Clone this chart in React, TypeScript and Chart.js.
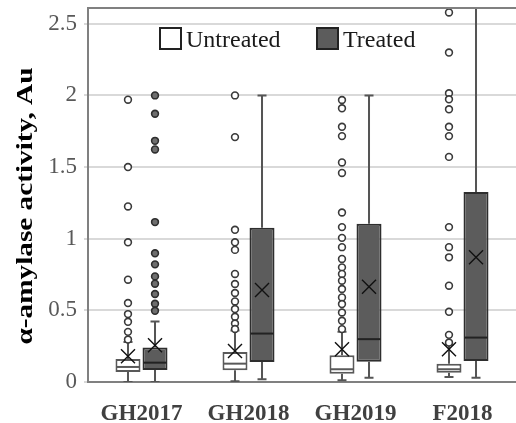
import { useEffect, useRef } from 'react';
import { Chart, registerables } from 'chart.js';

Chart.register(...registerables);

const categories = ['GH2017', 'GH2018', 'GH2019', 'F2018'];
const seriesNames = ['Untreated', 'Treated'];
const yTicks = [0, 0.5, 1, 1.5, 2, 2.5];
const yTitle = 'α-amylase activity, Au';

const untreatedMin = [0.0, 0.005, 0.012, 0.035];
const untreatedQ1 = [0.07, 0.082, 0.058, 0.065];
const untreatedMedian = [0.105, 0.128, 0.089, 0.089];
const untreatedQ3 = [0.161, 0.21, 0.187, 0.128];
const untreatedMax = [0.28, 0.36, 0.35, 0.26];
const untreatedMean = [0.18, 0.217, 0.229, 0.229];
const untreatedOutliers = [
  [1.97, 1.5, 1.225, 0.975, 0.714, 0.551, 0.474, 0.42, 0.35, 0.296],
  [2.0, 1.709, 1.062, 0.975, 0.922, 0.754, 0.684, 0.621, 0.562, 0.509, 0.455, 0.408, 0.37],
  [1.968, 1.91, 1.781, 1.716, 1.532, 1.459, 1.183, 1.081, 1.006, 0.941, 0.859, 0.8, 0.754, 0.707, 0.649, 0.59, 0.544, 0.485, 0.427, 0.369],
  [2.579, 2.299, 2.015, 1.973, 1.903, 1.781, 1.716, 1.571, 1.081, 0.941, 0.87, 0.672, 0.49, 0.329, 0.275],
];

const treatedMin = [0.0, 0.019, 0.03, 0.03];
const treatedQ1 = [0.084, 0.14, 0.142, 0.147];
const treatedMedian = [0.135, 0.338, 0.299, 0.31];
const treatedQ3 = [0.24, 1.076, 1.104, 1.326];
const treatedMax = [0.422, 2.0, 2.0, 3.0];
const treatedMean = [0.257, 0.642, 0.665, 0.87];
const treatedOutliers = [
  [2.0, 1.872, 1.683, 1.623, 1.116, 0.898, 0.821, 0.737, 0.686, 0.614, 0.546, 0.497],
  [],
  [],
  [],
];

const SERIF = "'Liberation Serif', 'Times New Roman', serif";

const stats = [
  {
    min: untreatedMin, q1: untreatedQ1, median: untreatedMedian, q3: untreatedQ3, max: untreatedMax,
    mean: untreatedMean, outliers: untreatedOutliers,
    fill: '#ffffff', border: '#595959', medianColor: '#595959', outlierFill: '#ffffff', outlierStroke: '#3a3a3a',
  },
  {
    min: treatedMin, q1: treatedQ1, median: treatedMedian, q3: treatedQ3, max: treatedMax,
    mean: treatedMean, outliers: treatedOutliers,
    fill: '#5c5c5c', border: '#2e2e2e', medianColor: '#222222', outlierFill: '#6e6e6e', outlierStroke: '#2e2e2e',
  },
];

const boxPlugin = {
  id: 'boxExtras',
  beforeDatasetsDraw(chart: any) {
    const { ctx, chartArea, scales } = chart;
    const y = scales.y;
    ctx.save();
    ctx.beginPath();
    ctx.rect(chartArea.left, chartArea.top, chartArea.right - chartArea.left, chartArea.bottom - chartArea.top);
    ctx.clip();
    ctx.strokeStyle = '#555555';
    ctx.lineWidth = 2;
    stats.forEach((s, di) => {
      const meta = chart.getDatasetMeta(di);
      meta.data.forEach((bar: any, j: number) => {
        const x = bar.x;
        const pts = [
          [s.q3[j], s.max[j]],
          [s.q1[j], s.min[j]],
        ];
        pts.forEach(([a, b]) => {
          const ya = y.getPixelForValue(a);
          const yb = y.getPixelForValue(b);
          ctx.beginPath();
          ctx.moveTo(x, ya);
          ctx.lineTo(x, yb);
          ctx.moveTo(x - 4.5, yb);
          ctx.lineTo(x + 4.5, yb);
          ctx.stroke();
        });
      });
    });
    ctx.restore();
  },
  afterDatasetsDraw(chart: any) {
    const { ctx, chartArea, scales } = chart;
    const y = scales.y;
    ctx.save();
    ctx.beginPath();
    ctx.rect(chartArea.left, chartArea.top, chartArea.right - chartArea.left, chartArea.bottom - chartArea.top);
    ctx.clip();
    stats.forEach((s, di) => {
      const meta = chart.getDatasetMeta(di);
      meta.data.forEach((bar: any, j: number) => {
        const x = bar.x;
        const hw = bar.width / 2 - 1;
        const ym = y.getPixelForValue(s.median[j]);
        ctx.strokeStyle = s.medianColor;
        ctx.lineWidth = 2;
        ctx.beginPath();
        ctx.moveTo(x - hw, ym);
        ctx.lineTo(x + hw, ym);
        ctx.stroke();
        ctx.lineWidth = 1.6;
        s.outliers[j].forEach((v: number) => {
          const yo = y.getPixelForValue(v);
          ctx.beginPath();
          ctx.arc(x, yo, 3.4, 0, Math.PI * 2);
          ctx.fillStyle = s.outlierFill;
          ctx.fill();
          ctx.strokeStyle = s.outlierStroke;
          ctx.stroke();
        });
        const yx = y.getPixelForValue(s.mean[j]);
        const r = 7;
        ctx.strokeStyle = '#111111';
        ctx.lineWidth = 1.4;
        ctx.beginPath();
        ctx.moveTo(x - r, yx - r);
        ctx.lineTo(x + r, yx + r);
        ctx.moveTo(x - r, yx + r);
        ctx.lineTo(x + r, yx - r);
        ctx.stroke();
      });
    });
    ctx.restore();
  },
  afterDraw(chart: any) {
    const { ctx, chartArea } = chart;
    ctx.save();
    ctx.strokeStyle = '#808080';
    ctx.lineWidth = 2;
    ctx.beginPath();
    ctx.moveTo(chartArea.left - 1, chartArea.top);
    ctx.lineTo(chartArea.right, chartArea.top);
    ctx.stroke();
    // legend
    const items = [
      { x: 160, text: chart.data.datasets[0].label, fill: stats[0].fill },
      { x: 317, text: chart.data.datasets[1].label, fill: stats[1].fill },
    ];
    ctx.font = `24px ${SERIF}`;
    ctx.textBaseline = 'alphabetic';
    ctx.textAlign = 'left';
    items.forEach((it) => {
      ctx.fillStyle = it.fill;
      ctx.fillRect(it.x, 28, 21, 21);
      ctx.strokeStyle = '#222222';
      ctx.lineWidth = 2;
      ctx.strokeRect(it.x, 28, 21, 21);
      ctx.fillStyle = '#1a1a1a';
      ctx.fillText(it.text, it.x + 26, 47);
    });
    // y axis title (rotated, stretched to match the original's length)
    ctx.font = `bold 23px ${SERIF}`;
    const w = ctx.measureText(yTitle).width;
    const sx = 277 / w;
    ctx.translate(32, 206);
    ctx.rotate(-Math.PI / 2);
    ctx.scale(sx, 1);
    ctx.fillStyle = '#000000';
    ctx.textAlign = 'center';
    ctx.textBaseline = 'alphabetic';
    ctx.fillText(yTitle, 0, 0);
    ctx.restore();
  },
};

export default function App() {
  const ref = useRef<HTMLCanvasElement | null>(null);
  useEffect(() => {
    const canvas = ref.current;
    if (!canvas) return;
    const chart = new Chart(canvas, {
      type: 'bar',
      data: {
        labels: categories,
        datasets: stats.map((s, i) => ({
          label: seriesNames[i],
          data: categories.map((_, j) => [s.q1[j], s.q3[j]]),
          backgroundColor: s.fill,
          borderColor: s.border,
          borderWidth: 2,
          borderSkipped: false,
          categoryPercentage: 0.505,
          barPercentage: 0.926,
        })),
      } as any,
      options: {
        animation: false,
        responsive: false,
        maintainAspectRatio: false,
        layout: { padding: { top: 8, right: 0, bottom: 0, left: 0 } },
        plugins: { legend: { display: false }, tooltip: { enabled: false } },
        scales: {
          x: {
            grid: { display: false },
            border: { color: '#808080', width: 2 },
            ticks: { font: { family: SERIF, size: 23, weight: 'bold' }, color: '#404040', padding: 10 },
            afterFit: (s: any) => {
              s.height = 41;
              s.paddingLeft = 0;
              s.paddingRight = 0;
            },
          },
          y: {
            min: 0,
            max: 2.61,
            grid: { color: '#d9d9d9', lineWidth: 2, tickLength: 4 },
            border: { color: '#808080', width: 2 },
            ticks: {
              font: { family: SERIF, size: 23 },
              color: '#595959',
              padding: 7,
              callback: (v: any) => String(v),
            },
            afterBuildTicks: (s: any) => {
              s.ticks = yTicks.map((v) => ({ value: v }));
            },
            afterFit: (s: any) => {
              s.width = 88;
              s.paddingTop = 0;
              s.paddingBottom = 0;
            },
          },
        },
      } as any,
      plugins: [boxPlugin],
    });
    return () => chart.destroy();
  }, []);
  return (
    <div style={{ position: 'absolute', left: 0, top: 0, width: 516, height: 423, background: '#fff' }}>
      <canvas ref={ref} width={516} height={423} style={{ display: 'block' }} />
    </div>
  );
}
